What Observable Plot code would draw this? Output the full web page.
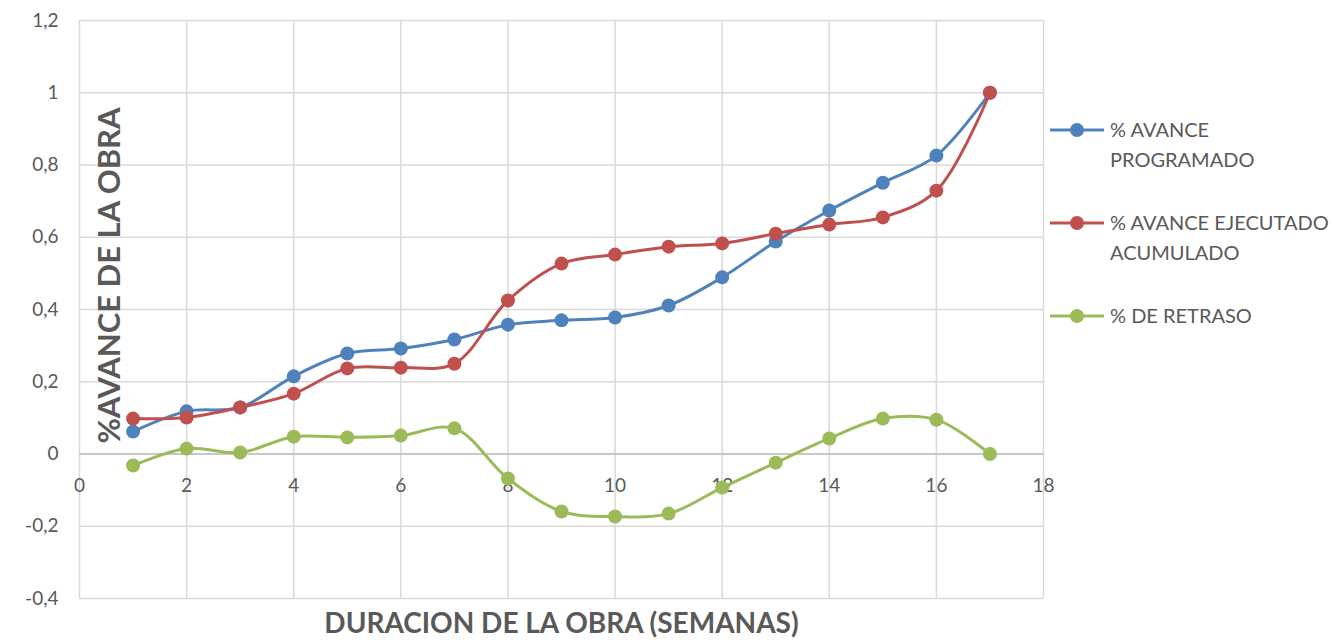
<!DOCTYPE html>
<html>
<head>
<meta charset="utf-8">
<script src="https://cdn.jsdelivr.net/npm/d3@7"></script>
<script src="https://cdn.jsdelivr.net/npm/@observablehq/plot@0.6"></script>
<style>
  html, body { margin: 0; padding: 0; background: #fff; }
  #wrap { position: relative; width: 1333px; height: 643px; font-family: Lato, "Open Sans", sans-serif; }
  #legend { position: absolute; left: 1050px; top: 114px; color: #595959; font-size: 20px; line-height: 30px; }
  .item { display: flex; align-items: flex-start; margin-bottom: 33px; }
  .item svg { flex: none; margin-top: 8px; margin-right: 6px; }
</style>
</head>
<body>
<div id="wrap"><div id="chart"></div><div id="legend"></div></div>
<script>
const semanas = [1,2,3,4,5,6,7,8,9,10,11,12,13,14,15,16,17];
const programado = [0.062,0.118,0.129,0.215,0.278,0.292,0.317,0.358,0.370,0.378,0.411,0.489,0.588,0.674,0.751,0.826,1.0];
const ejecutado = [0.098,0.101,0.129,0.167,0.237,0.239,0.250,0.425,0.527,0.552,0.574,0.583,0.610,0.635,0.655,0.729,1.0];
const retraso = [-0.032,0.015,0.004,0.048,0.046,0.051,0.071,-0.068,-0.159,-0.173,-0.165,-0.093,-0.024,0.043,0.098,0.095,0.0];
const seriesNames = ["% AVANCE PROGRAMADO", "% AVANCE EJECUTADO ACUMULADO", "% DE RETRASO"];
const legendLines = [["% AVANCE","PROGRAMADO"],["% AVANCE EJECUTADO","ACUMULADO"],["% DE RETRASO"]];
const colors = ["#4f81bd", "#c0504d", "#9bbb59"];
const xTicks = [0,2,4,6,8,10,12,14,16,18];
const yTicks = [-0.4,-0.2,0,0.2,0.4,0.6,0.8,1.0,1.2];
const yTitle = "%AVANCE DE LA OBRA";
const xTitle = "DURACION DE LA OBRA (SEMANAS)";

const valuesBySeries = [programado, ejecutado, retraso];
const data = [];
seriesNames.forEach((s, i) => semanas.forEach((w, j) => data.push({serie: s, semana: w, valor: valuesBySeries[i][j]})));

const fmt = d => String(Math.round(d * 10) / 10).replace(".", ",");

const plot = Plot.plot({
  width: 1333,
  height: 643,
  marginLeft: 79,
  marginRight: 290,
  marginTop: 20,
  marginBottom: 45,
  style: {fontFamily: "Lato, 'Open Sans', sans-serif", background: "#fff"},
  x: {domain: [0, 18], axis: null},
  y: {domain: [-0.4, 1.2]},
  color: {domain: seriesNames, range: colors},
  marks: [
    Plot.gridX(xTicks, {stroke: "#d9d9d9", strokeOpacity: 1, strokeWidth: 1.5}),
    Plot.gridY(yTicks, {stroke: "#d9d9d9", strokeOpacity: 1, strokeWidth: 1.5}),
    Plot.ruleY([0], {stroke: "#bfbfbf", strokeWidth: 1.5}),
    Plot.axisY(yTicks, {tickSize: 0, tickPadding: 21, tickFormat: fmt, fontSize: 19, fill: "#595959", label: null}),
    Plot.text(xTicks, {x: d => d, y: 0, dy: 32, text: d => String(d), fontSize: 19, fill: "#595959"}),
    Plot.line(data, {x: "semana", y: "valor", z: "serie", stroke: "serie", strokeWidth: 3, curve: "catmull-rom"}),
    Plot.dot(data, {x: "semana", y: "valor", fill: "serie", r: 7}),
    Plot.text([yTitle], {frameAnchor: "left", textAnchor: "middle", dx: 31, dy: -34, rotate: -90, text: d => d, fontSize: 31, fontWeight: "bold", fill: "#595959"}),
    Plot.text([xTitle], {frameAnchor: "bottom", textAnchor: "middle", dy: 34, text: d => d, fontSize: 28, fontWeight: "bold", fill: "#595959"})
  ]
});
document.getElementById("chart").appendChild(plot);

const legend = document.getElementById("legend");
seriesNames.forEach((s, i) => {
  const item = document.createElement("div");
  item.className = "item";
  item.innerHTML = `<svg width="54" height="16"><line x1="0" x2="54" y1="8" y2="8" stroke="${colors[i]}" stroke-width="3"/><circle cx="27" cy="8" r="7" fill="${colors[i]}"/></svg><div>${legendLines[i].join("<br>")}</div>`;
  legend.appendChild(item);
});
</script>
</body>
</html>
